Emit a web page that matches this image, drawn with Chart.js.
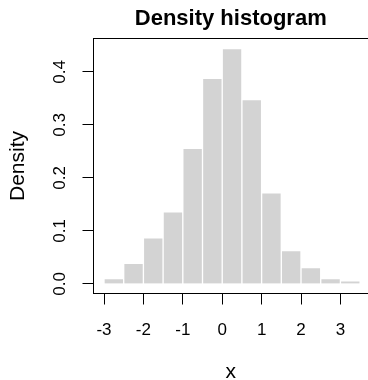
<!DOCTYPE html>
<html>
<head>
<meta charset="utf-8">
<script src="https://cdn.jsdelivr.net/npm/chart.js@4/dist/chart.umd.min.js"></script>
<style>
html,body{margin:0;padding:0;background:#fff;}
canvas{display:block;}
</style>
</head>
<body>
<canvas id="c" width="368" height="380"></canvas>
<script>
// Histogram bins (midpoints), bin width 0.5
const binMids = [-2.75, -2.25, -1.75, -1.25, -0.75, -0.25, 0.25, 0.75, 1.25, 1.75, 2.25, 2.75, 3.25];
const densities = [0.010, 0.039, 0.087, 0.136, 0.256, 0.388, 0.444, 0.348, 0.172, 0.063, 0.031, 0.010, 0.006];
const xTicks = [-3, -2, -1, 0, 1, 2, 3];
const yTicks = [0.0, 0.1, 0.2, 0.3, 0.4];

const FONT = "'Liberation Sans', Arial, Helvetica, sans-serif";

const boxPlugin = {
  id: 'box',
  afterDraw(chart) {
    const {ctx, chartArea: a} = chart;
    ctx.save();
    ctx.strokeStyle = '#000';
    ctx.lineWidth = 1;
    ctx.strokeRect(a.left, a.top, (a.right + 6) - a.left, a.bottom - a.top);
    ctx.restore();
  }
};

new Chart(document.getElementById('c'), {
  type: 'bar',
  data: {
    datasets: [{
      data: binMids.map((m, i) => ({x: m, y: densities[i]})),
      backgroundColor: '#d3d3d3',
      borderColor: '#ffffff',
      borderWidth: 1,
      borderSkipped: 'start',
      barPercentage: 1,
      categoryPercentage: 1
    }]
  },
  options: {
    responsive: false,
    animation: false,
    devicePixelRatio: 1,
    layout: {padding: 0},
    plugins: {
      legend: {display: false},
      tooltip: {enabled: false},
      title: {
        display: true,
        text: 'Density histogram',
        fullSize: false,
        color: '#000',
        font: {family: FONT, size: 22, weight: 'bold', lineHeight: 1.2},
        padding: {top: 6, bottom: 6.1}
      }
    },
    scales: {
      x: {
        type: 'linear',
        min: -3.2665,
        max: 3.70,
        offset: false,
        grid: {display: true, offset: false, drawOnChartArea: false, drawTicks: true, tickLength: 11, color: '#000', tickColor: '#000', lineWidth: 1},
        border: {display: false},
        afterBuildTicks: s => { s.ticks = xTicks.map(v => ({value: v})); },
        afterFit: s => { s.height = 86.5; },
        ticks: {
          color: '#000',
          font: {family: FONT, size: 17},
          padding: 15.5,
          maxRotation: 0,
          minRotation: 0,
          callback: v => String(v)
        },
        title: {
          display: true,
          text: 'x',
          color: '#000',
          font: {family: FONT, size: 21, lineHeight: 0.79},
          padding: {top: 0, bottom: 0}
        }
      },
      y: {
        type: 'linear',
        min: -0.018,
        max: 0.463,
        grid: {display: true, drawOnChartArea: false, drawTicks: true, tickLength: 11, color: '#000', tickColor: '#000', lineWidth: 1},
        border: {display: false},
        afterBuildTicks: s => { s.ticks = yTicks.map(v => ({value: v})); },
        afterFit: s => { s.width = 93.5; },
        ticks: {
          color: '#000',
          font: {family: FONT, size: 17},
          padding: 10.4,
          minRotation: 90,
          maxRotation: 90,
          crossAlign: 'center',
          callback: v => Number(v).toFixed(1)
        },
        title: {
          display: true,
          text: 'Density',
          color: '#000',
          font: {family: FONT, size: 21, lineHeight: 1.2},
          padding: {top: 6, bottom: 0}
        }
      }
    }
  },
  plugins: [boxPlugin]
});
</script>
</body>
</html>
